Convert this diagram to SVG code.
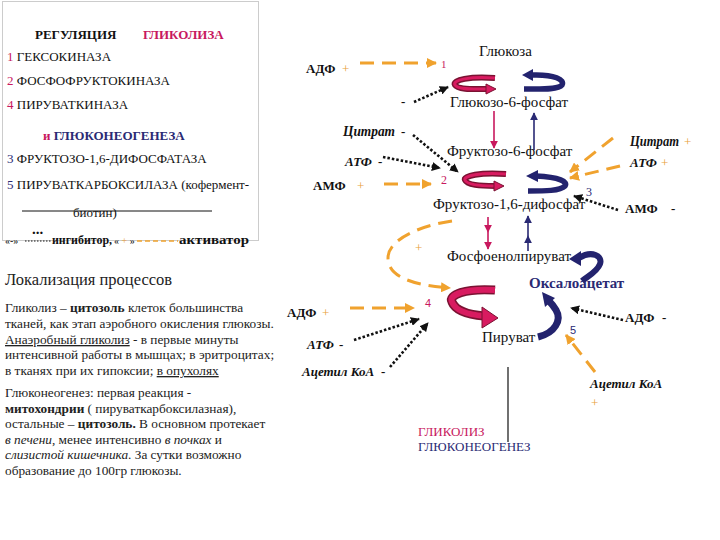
<svg xmlns="http://www.w3.org/2000/svg" width="720" height="540" viewBox="0 0 720 540" font-family="Liberation Serif, DejaVu Serif, serif">
<defs>
<style>
text{font-family:'Liberation Serif','DejaVu Serif',serif;fill:#111}
.s12{font-size:12px}.s13{font-size:13px}.s11{font-size:11px}.s14{font-size:14px}.s15{font-size:15px}
.b{font-weight:bold}.bi{font-weight:bold;font-style:italic}.i{font-style:italic}
.crim{fill:#c8185e}.navy{fill:#2a2a74}.or{fill:#e8a040}
.par{font-size:13.3px;fill:#222}
.dot{fill:none;stroke:#111;stroke-width:2.6;stroke-dasharray:2.5 2}
.dash{fill:none;stroke:#f0a22e;stroke-width:3;stroke-dasharray:14 8}
.vc{fill:none;stroke:#c8185e;stroke-width:1.6}
.vn{fill:none;stroke:#2a2a74;stroke-width:1.6}
.rib-r-o{fill:none;stroke:#7a1232;stroke-width:6;stroke-linecap:butt}
.rib-r-i{fill:none;stroke:#d81b60;stroke-width:3;stroke-linecap:butt}
.rib-n{fill:none;stroke:#23236e;stroke-width:5.5;stroke-linecap:butt}
</style>
<marker id="mb" viewBox="0 0 10 10" refX="9" refY="5" markerWidth="9" markerHeight="9" markerUnits="userSpaceOnUse" orient="auto"><path d="M0,0 L10,5 L0,10 z" fill="#111"/></marker>
<marker id="mo" viewBox="0 0 10 10" refX="9" refY="5" markerWidth="10" markerHeight="10" markerUnits="userSpaceOnUse" orient="auto"><path d="M0,0 L10,5 L0,10 z" fill="#f0a22e"/></marker>
<marker id="mc" viewBox="0 0 10 10" refX="9" refY="5" markerWidth="8" markerHeight="8" markerUnits="userSpaceOnUse" orient="auto"><path d="M0,0 L10,5 L0,10 z" fill="#c8185e"/></marker>
<marker id="mn" viewBox="0 0 10 10" refX="9" refY="5" markerWidth="8" markerHeight="8" markerUnits="userSpaceOnUse" orient="auto"><path d="M0,0 L10,5 L0,10 z" fill="#2a2a74"/></marker>
</defs>
<rect width="720" height="540" fill="#fff"/>

<g id="legend-box">
<rect x="2.5" y="1.5" width="256" height="239" fill="none" stroke="#999" stroke-width="1" stroke-dasharray="1 1"/>
<text x="35" y="39" class="s13 b">РЕГУЛЯЦИЯ</text>
<text x="143" y="39" class="s13 b crim">ГЛИКОЛИЗА</text>
<text x="7" y="61" class="s13"><tspan class="crim">1</tspan> ГЕКСОКИНАЗА</text>
<text x="7" y="85" class="s13"><tspan class="crim">2</tspan> ФОСФОФРУКТОКИНАЗА</text>
<text x="7" y="109" class="s13"><tspan class="crim">4</tspan> ПИРУВАТКИНАЗА</text>
<text x="43" y="140" class="s13 b"><tspan class="crim">и</tspan> <tspan class="navy">ГЛЮКОНЕОГЕНЕЗА</tspan></text>
<text x="7" y="163" class="s13"><tspan class="navy">3</tspan> ФРУКТОЗО-1,6-ДИФОСФАТАЗА</text>
<text x="7" y="189" class="s13"><tspan class="navy">5</tspan> ПИРУВАТКАРБОКСИЛАЗА (кофермент-</text>
<line x1="22" y1="211" x2="212" y2="211" stroke="#111" stroke-width="1"/>
<text x="73" y="217" class="s13">биотин)</text>
<text x="32" y="234" class="b" style="font-size:15px">...</text>
<text x="5" y="244" style="font-size:10px">«-»</text>
<line x1="25" y1="241" x2="51" y2="241" stroke="#111" stroke-width="1.2" stroke-dasharray="1.5 1.5"/>
<text x="52" y="244" class="s12 b" textLength="60" lengthAdjust="spacingAndGlyphs">ингибитор,</text>
<text x="114" y="244" style="font-size:10px">«<tspan class="or"> + </tspan>»</text>
<line x1="137" y1="241" x2="178" y2="241" stroke="#f0a22e" stroke-width="1.5" stroke-dasharray="5 3"/>
<text x="179" y="244" class="s12 b" textLength="70" lengthAdjust="spacingAndGlyphs">активатор</text>
</g>

<g id="localization">
<text x="5" y="285" style="font-size:16.5px;fill:#222">Локализация процессов</text>
<text x="5" y="312" class="par">Гликолиз – <tspan class="b">цитозоль</tspan> клеток большинства</text>
<text x="5" y="328" class="par">тканей, как этап аэробного окисления глюкозы.</text>
<text x="5" y="344" class="par"><tspan text-decoration="underline">Анаэробный гликолиз</tspan>  - в первые минуты</text>
<text x="5" y="359" class="par">интенсивной работы в мышцах; в эритроцитах;</text>
<text x="5" y="375" class="par">в тканях при их гипоксии; <tspan text-decoration="underline">в опухолях</tspan></text>
<text x="5" y="397" class="par">Глюконеогенез: первая реакция -</text>
<text x="5" y="413" class="par"><tspan class="b">митохондрии</tspan> ( пируваткарбоксилазная),</text>
<text x="5" y="428" class="par">остальные – <tspan class="b">цитозоль.</tspan>  В основном протекает</text>
<text x="5" y="444" class="par"><tspan class="i">в печени</tspan>, менее интенсивно <tspan class="i">в почках</tspan> и</text>
<text x="5" y="459" class="par"><tspan class="i">слизистой кишечника</tspan>. За сутки возможно</text>
<text x="5" y="475" class="par">образование до 100гр глюкозы.</text>
</g>

<g id="connectors">
<path class="dash" d="M360,63 L436,63" marker-end="url(#mo)"/>
<path class="dot" d="M414,102 L448,87" marker-end="url(#mb)"/>
<path class="dot" d="M413,135 L458,172" marker-end="url(#mb)"/>
<path class="dot" d="M383,157 L440,168" marker-end="url(#mb)"/>
<path class="dash" d="M384,184 L431,184" marker-end="url(#mo)"/>
<path class="dash" d="M613,138 L570,172" marker-end="url(#mo)"/>
<path class="dash" d="M620,166 L570,178" marker-end="url(#mo)"/>
<path class="dot" d="M618,210 L574,196" marker-end="url(#mb)"/>
<path class="dash" d="M452,221 C418,226 388,240 388,258 C388,276 410,285 450,288" marker-end="url(#mo)"/>
<path class="dash" d="M350,308 L414,308" marker-end="url(#mo)"/>
<path class="dot" d="M354,340 L419,319" marker-end="url(#mb)"/>
<path class="dot" d="M390,367 L428,323" marker-end="url(#mb)"/>
<path class="dot" d="M623,320 L571,308" marker-end="url(#mb)"/>
<path class="dash" d="M595,372 L566,335" marker-end="url(#mo)"/>
<line x1="508" y1="367" x2="508" y2="442" stroke="#111" stroke-width="1.2"/>
<path class="vc" d="M494,111 L494,148" marker-end="url(#mc)"/>
<path class="vn" d="M534,150 L534,113" marker-end="url(#mn)"/>
<path class="vc" d="M488,217 L488,232 L488,249" marker-mid="url(#mc)" marker-end="url(#mc)"/>
<path class="vn" d="M528,251 L528,236 L528,216" marker-mid="url(#mn)" marker-end="url(#mn)"/>
</g>

<g id="cycle-glucose">
<path class="rib-r-o" d="M495,78 C470,76 452,80 455,85 C458,90 475,89 487,89"/>
<path class="rib-r-i" d="M495,78 C470,76 452,80 455,85 C458,90 475,89 487,89"/>
<polygon points="486,84 496,89 486,94" fill="#d81b60" stroke="#7a1232" stroke-width="1"/>
<path class="rib-n" d="M531,75 C555,74 565,80 562,85 C558,90 540,89 524,89"/>
<polygon points="522,75 533,69 533,81" fill="#23236e"/>
</g>

<g id="cycle-fructose">
<path class="rib-r-o" d="M506,174 C480,172 463,176 465,180 C467,185 480,186 495,186"/>
<path class="rib-r-i" d="M506,174 C480,172 463,176 465,180 C467,185 480,186 495,186"/>
<polygon points="494,181 504,186 494,191" fill="#d81b60" stroke="#7a1232" stroke-width="1"/>
<path class="rib-n" d="M536,176 C560,177 568,182 565,186 C560,191 545,191 528,191"/>
<polygon points="526,176 538,170 538,182" fill="#23236e"/>
</g>

<g id="cycle-pyruvate">
<path d="M495,290 C465,288 448,295 452,302 C456,312 472,315 484,316" fill="none" stroke="#7a1232" stroke-width="9"/>
<path d="M495,290 C465,288 448,295 452,302 C456,312 472,315 484,316" fill="none" stroke="#d81b60" stroke-width="6"/>
<polygon points="482,307 498,318 482,328" fill="#d81b60" stroke="#7a1232" stroke-width="1"/>
<path d="M579,258 C592,250 603,256 600,264 C597,272 588,276 582,281" fill="none" stroke="#23236e" stroke-width="6"/>
<polygon points="569,259 581,251 581,266" fill="#23236e"/>
<path d="M538,337 C555,333 562,320 556,310 C553,305 551,303 549,301" fill="none" stroke="#23236e" stroke-width="7"/>
<polygon points="542,292 555,298 545,307" fill="#23236e"/>
</g>

<g id="n-glucose"><text x="479" y="56" class="s15">Глюкоза</text></g>
<g id="n-g6p"><text x="450" y="107" class="s15">Глюкозо-6-фосфат</text></g>
<g id="n-f6p"><text x="447" y="156" class="s15">Фруктозо-6-фосфат</text></g>
<g id="n-f16p"><text x="433" y="209" class="s15">Фруктозо-1,6-дифосфат</text></g>
<g id="n-pep"><text x="447" y="261" class="s15">Фосфоенолпируват</text></g>
<g id="n-oaa"><text x="529" y="288" class="s15 b navy">Оксалоацетат</text></g>
<g id="n-pyr"><text x="482" y="342" class="s15">Пируват</text></g>

<g id="regulators">
<text x="306" y="73" class="s13 b">АДФ</text><text x="342" y="73" class="s13 or">+</text>
<text x="441" y="68" class="s11 crim">1</text>
<text x="401" y="106" class="s13 b">-</text>
<text x="343" y="136" class="s14 bi" textLength="52" lengthAdjust="spacingAndGlyphs">Цитрат</text><text x="401" y="136" class="s13 b">-</text>
<text x="345" y="166" class="s13 bi">АТФ</text><text x="378" y="166" class="s13 b">-</text>
<text x="441" y="184" class="s12 crim">2</text>
<text x="313" y="190" class="s13 b">АМФ</text><text x="357" y="190" class="s13 or">+</text>
<text x="630" y="146" class="s14 bi" textLength="49" lengthAdjust="spacingAndGlyphs">Цитрат</text><text x="684" y="146" class="s13 or">+</text>
<text x="630" y="167" class="s13 bi">АТФ</text><text x="661" y="167" class="s13 or">+</text>
<text x="586" y="196" class="s12 navy">3</text>
<text x="625" y="213" class="s13 b">АМФ</text><text x="671" y="213" class="s13 b">-</text>
<text x="415" y="252" class="s13 or">+</text>
<text x="425" y="307" class="s11 crim" style="font-family:'Liberation Sans',sans-serif">4</text>
<text x="287" y="317" class="s13 b">АДФ</text><text x="322" y="317" class="s13 or">+</text>
<text x="570" y="334" class="s11 navy" style="font-family:'Liberation Sans',sans-serif">5</text>
<text x="625" y="322" class="s13 b">АДФ</text><text x="662" y="322" class="s13 b">-</text>
<text x="307" y="349" class="s13 bi">АТФ</text><text x="339" y="349" class="s13 b">-</text>
<text x="302" y="376" class="s13 bi">Ацетил КоА</text><text x="381" y="376" class="s13 b">-</text>
<text x="590" y="388" class="s13 bi">Ацетил КоА</text>
<text x="591" y="407" class="s13 or">+</text>
</g>

<g id="legend-colors">
<text x="418" y="436" class="s13 crim">ГЛИКОЛИЗ</text>
<text x="418" y="451" class="s13 navy">ГЛЮКОНЕОГЕНЕЗ</text>
</g>
</svg>
